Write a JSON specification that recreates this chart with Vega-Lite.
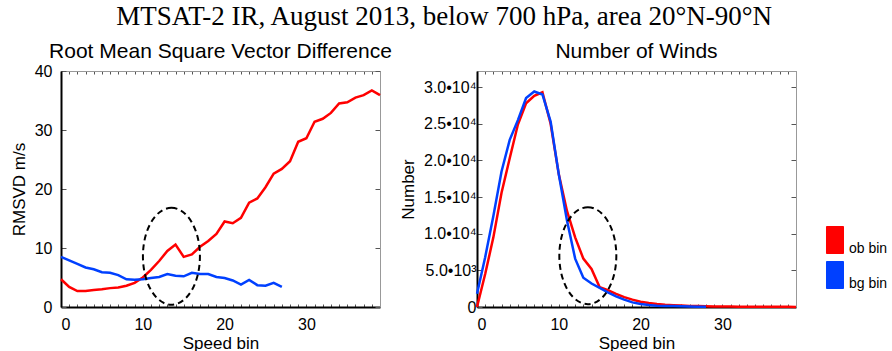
{
  "$schema": "https://vega.github.io/schema/vega-lite/v6.json",
  "background": "white",
  "padding": {"left": 10, "top": 2, "right": 0, "bottom": 5},
  "title": {"text": "MTSAT-2 IR, August 2013, below 700 hPa, area 20°N-90°N", "font": "Liberation Serif", "fontSize": 27, "fontWeight": "normal", "color": "black", "anchor": "middle", "offset": 10, "dx": -5},
  "datasets": {
    "rms": [
      {"bin":0,"series":"ob bin","value":4.7},{"bin":1,"series":"ob bin","value":3.4},{"bin":2,"series":"ob bin","value":2.7},{"bin":3,"series":"ob bin","value":2.7},{"bin":4,"series":"ob bin","value":2.9},{"bin":5,"series":"ob bin","value":3.0},{"bin":6,"series":"ob bin","value":3.2},{"bin":7,"series":"ob bin","value":3.3},{"bin":8,"series":"ob bin","value":3.6},{"bin":9,"series":"ob bin","value":4.1},
      {"bin":10,"series":"ob bin","value":5.0},{"bin":11,"series":"ob bin","value":6.3},{"bin":12,"series":"ob bin","value":7.8},{"bin":13,"series":"ob bin","value":9.5},{"bin":14,"series":"ob bin","value":10.6},{"bin":15,"series":"ob bin","value":8.5},{"bin":16,"series":"ob bin","value":8.9},{"bin":17,"series":"ob bin","value":10.2},{"bin":18,"series":"ob bin","value":11.2},{"bin":19,"series":"ob bin","value":12.4},
      {"bin":20,"series":"ob bin","value":14.5},{"bin":21,"series":"ob bin","value":14.2},{"bin":22,"series":"ob bin","value":15.1},{"bin":23,"series":"ob bin","value":17.7},{"bin":24,"series":"ob bin","value":18.4},{"bin":25,"series":"ob bin","value":20.3},{"bin":26,"series":"ob bin","value":22.6},{"bin":27,"series":"ob bin","value":23.4},{"bin":28,"series":"ob bin","value":24.7},{"bin":29,"series":"ob bin","value":28.0},
      {"bin":30,"series":"ob bin","value":28.6},{"bin":31,"series":"ob bin","value":31.4},{"bin":32,"series":"ob bin","value":31.9},{"bin":33,"series":"ob bin","value":32.9},{"bin":34,"series":"ob bin","value":34.5},{"bin":35,"series":"ob bin","value":34.7},{"bin":36,"series":"ob bin","value":35.5},{"bin":37,"series":"ob bin","value":35.9},{"bin":38,"series":"ob bin","value":36.7},{"bin":39,"series":"ob bin","value":35.9},
      {"bin":0,"series":"bg bin","value":8.5},{"bin":1,"series":"bg bin","value":7.9},{"bin":2,"series":"bg bin","value":7.3},{"bin":3,"series":"bg bin","value":6.7},{"bin":4,"series":"bg bin","value":6.4},{"bin":5,"series":"bg bin","value":5.9},{"bin":6,"series":"bg bin","value":5.8},{"bin":7,"series":"bg bin","value":5.4},{"bin":8,"series":"bg bin","value":4.7},{"bin":9,"series":"bg bin","value":4.6},
      {"bin":10,"series":"bg bin","value":4.7},{"bin":11,"series":"bg bin","value":4.9},{"bin":12,"series":"bg bin","value":5.1},{"bin":13,"series":"bg bin","value":5.6},{"bin":14,"series":"bg bin","value":5.3},{"bin":15,"series":"bg bin","value":5.2},{"bin":16,"series":"bg bin","value":5.8},{"bin":17,"series":"bg bin","value":5.6},{"bin":18,"series":"bg bin","value":5.6},{"bin":19,"series":"bg bin","value":5.1},
      {"bin":20,"series":"bg bin","value":4.9},{"bin":21,"series":"bg bin","value":4.5},{"bin":22,"series":"bg bin","value":3.8},{"bin":23,"series":"bg bin","value":4.6},{"bin":24,"series":"bg bin","value":3.7},{"bin":25,"series":"bg bin","value":3.6},{"bin":26,"series":"bg bin","value":4.1},{"bin":27,"series":"bg bin","value":3.4}
    ],
    "num": [
      {"bin":0,"series":"ob bin","value":0},{"bin":1,"series":"ob bin","value":4500},{"bin":2,"series":"ob bin","value":9500},{"bin":3,"series":"ob bin","value":15600},{"bin":4,"series":"ob bin","value":20300},{"bin":5,"series":"ob bin","value":24900},{"bin":6,"series":"ob bin","value":27800},{"bin":7,"series":"ob bin","value":28800},{"bin":8,"series":"ob bin","value":29300},{"bin":9,"series":"ob bin","value":25000},
      {"bin":10,"series":"ob bin","value":18100},{"bin":11,"series":"ob bin","value":13100},{"bin":12,"series":"ob bin","value":9500},{"bin":13,"series":"ob bin","value":6600},{"bin":14,"series":"ob bin","value":5200},{"bin":15,"series":"ob bin","value":2700},{"bin":16,"series":"ob bin","value":2300},{"bin":17,"series":"ob bin","value":1800},{"bin":18,"series":"ob bin","value":1350},{"bin":19,"series":"ob bin","value":1000},
      {"bin":20,"series":"ob bin","value":720},{"bin":21,"series":"ob bin","value":540},{"bin":22,"series":"ob bin","value":400},{"bin":23,"series":"ob bin","value":310},{"bin":24,"series":"ob bin","value":250},{"bin":25,"series":"ob bin","value":200},{"bin":26,"series":"ob bin","value":150},{"bin":27,"series":"ob bin","value":120},{"bin":28,"series":"ob bin","value":100},{"bin":29,"series":"ob bin","value":80},
      {"bin":30,"series":"ob bin","value":70},{"bin":31,"series":"ob bin","value":60},{"bin":32,"series":"ob bin","value":50},{"bin":33,"series":"ob bin","value":40},{"bin":34,"series":"ob bin","value":35},{"bin":35,"series":"ob bin","value":30},{"bin":36,"series":"ob bin","value":25},{"bin":37,"series":"ob bin","value":20},{"bin":38,"series":"ob bin","value":20},{"bin":39,"series":"ob bin","value":15},
      {"bin":0,"series":"bg bin","value":1800},{"bin":1,"series":"bg bin","value":6800},{"bin":2,"series":"bg bin","value":12400},{"bin":3,"series":"bg bin","value":18500},{"bin":4,"series":"bg bin","value":22800},{"bin":5,"series":"bg bin","value":25500},{"bin":6,"series":"bg bin","value":28500},{"bin":7,"series":"bg bin","value":29400},{"bin":8,"series":"bg bin","value":29000},{"bin":9,"series":"bg bin","value":25300},
      {"bin":10,"series":"bg bin","value":18100},{"bin":11,"series":"bg bin","value":11800},{"bin":12,"series":"bg bin","value":6600},{"bin":13,"series":"bg bin","value":4000},{"bin":14,"series":"bg bin","value":3200},{"bin":15,"series":"bg bin","value":2600},{"bin":16,"series":"bg bin","value":2000},{"bin":17,"series":"bg bin","value":1450},{"bin":18,"series":"bg bin","value":1000},{"bin":19,"series":"bg bin","value":630},
      {"bin":20,"series":"bg bin","value":400},{"bin":21,"series":"bg bin","value":270},{"bin":22,"series":"bg bin","value":180},{"bin":23,"series":"bg bin","value":130},{"bin":24,"series":"bg bin","value":120},{"bin":25,"series":"bg bin","value":90},{"bin":26,"series":"bg bin","value":70},{"bin":27,"series":"bg bin","value":50},{"bin":28,"series":"bg bin","value":40}
    ],
    "ell": [
      {"panel":"rms","x":13.5,"y":8.6},
      {"panel":"num","x":13.55,"y":7000}
    ]
  },
  "config": {
    "view": {"stroke": null},
    "font": "Liberation Sans",
    "axis": {"labelFont": "Liberation Sans", "labelFontSize": 16, "labelColor": "black", "titleFont": "Liberation Sans", "titleFontSize": 17, "titleFontWeight": "normal", "titleColor": "black", "grid": false, "domainColor": "black", "domainWidth": 2, "tickColor": "#555", "tickWidth": 1},
    "title": {"font": "Liberation Sans", "fontSize": 21, "fontWeight": "normal", "color": "black", "offset": 1}
  },
  "spacing": 7,
  "hconcat": [
    {
      "title": {"text": "Root Mean Square Vector Difference"},
      "width": 319, "height": 236,
      "resolve": {"axis": {"x": "independent", "y": "independent"}},
      "layer": [
        {
          "data": {"name": "rms"},
          "mark": {"type": "line", "strokeWidth": 2.5},
          "encoding": {
            "x": {"field": "bin", "type": "quantitative", "scale": {"domain": [0, 39], "nice": false, "zero": false},
                  "axis": {"title": "Speed bin", "orient": "bottom", "values": [0,1,2,3,4,5,6,7,8,9,10,11,12,13,14,15,16,17,18,19,20,21,22,23,24,25,26,27,28,29,30,31,32,33,34,35,36,37,38,39], "labelExpr": "datum.value % 10 == 0 ? datum.label : ''", "tickSize": -3, "labelPadding": 12, "titlePadding": 3}},
            "y": {"field": "value", "type": "quantitative", "scale": {"domain": [0, 40], "nice": false},
                  "axis": {"title": "RMSVD m/s", "orient": "left", "values": [0,10,20,30,40], "tickSize": -5, "labelPadding": 14, "titlePadding": 6}},
            "color": {"field": "series", "type": "nominal", "scale": {"domain": ["ob bin", "bg bin"], "range": ["#ff0000", "#0040ff"]},
                      "legend": {"orient": "none", "legendX": 760, "legendY": 155, "title": null, "padding": 0,
                                 "symbolType": "M-0.63,-1H0.63V1H-0.63Z", "symbolSize": 729, "labelFont": "Liberation Sans", "labelFontSize": 14, "labelColor": "black", "labelOffset": 0, "rowPadding": 3,
                                 "encode": {"symbols": {"update": {"fill": {"scale": "color", "field": "value"}, "stroke": {"value": "#333"}, "strokeWidth": {"value": 1}, "opacity": {"value": 1}}},
                                            "labels": {"update": {"dy": {"value": 9}}}}}}
          }
        },
        {
          "data": {"name": "ell"},
          "transform": [{"filter": "datum.panel == 'rms'"}],
          "mark": {"type": "point", "shape": "M0,-1.7C0.5523,-1.7 1,-0.9389 1,0C1,0.9389 0.5523,1.7 0,1.7C-0.5523,1.7 -1,0.9389 -1,0C-1,-0.9389 -0.5523,-1.7 0,-1.7Z", "size": 3249, "filled": false, "stroke": "black", "strokeWidth": 2, "strokeDash": [6, 4], "opacity": 1},
          "encoding": {
            "x": {"field": "x", "type": "quantitative", "axis": null},
            "y": {"field": "y", "type": "quantitative", "axis": null}
          }
        },
        {
          "data": {"name": "rms"},
          "mark": {"type": "line", "opacity": 0},
          "encoding": {
            "x": {"field": "bin", "type": "quantitative",
                  "axis": {"orient": "top", "title": null, "labels": false, "values": [0,1,2,3,4,5,6,7,8,9,10,11,12,13,14,15,16,17,18,19,20,21,22,23,24,25,26,27,28,29,30,31,32,33,34,35,36,37,38,39], "tickSize": -3, "domainColor": "#999", "domainWidth": 1}},
            "y": {"field": "value", "type": "quantitative",
                  "axis": {"orient": "right", "title": null, "labels": false, "values": [0,10,20,30,40], "tickSize": -5, "domainColor": "#999", "domainWidth": 1}}
          }
        }
      ]
    },
    {
      "title": {"text": "Number of Winds", "dy": -8},
      "width": 319, "height": 236,
      "resolve": {"axis": {"x": "independent", "y": "independent"}},
      "layer": [
        {
          "data": {"name": "num"},
          "mark": {"type": "line", "strokeWidth": 2.5},
          "encoding": {
            "x": {"field": "bin", "type": "quantitative", "scale": {"domain": [0, 39], "nice": false, "zero": false},
                  "axis": {"title": "Speed bin", "orient": "bottom", "values": [0,1,2,3,4,5,6,7,8,9,10,11,12,13,14,15,16,17,18,19,20,21,22,23,24,25,26,27,28,29,30,31,32,33,34,35,36,37,38,39], "labelExpr": "datum.value % 10 == 0 ? datum.label : ''", "tickSize": -3, "labelPadding": 12, "titlePadding": 3}},
            "y": {"field": "value", "type": "quantitative", "scale": {"domain": [0, 32200], "nice": false},
                  "axis": {"title": "Number", "orient": "left", "values": [0,5000,10000,15000,20000,25000,30000], "labelExpr": "datum.value == 0 ? '0' : (datum.value < 10000 ? format(datum.value/1000, '.1f') + '•10³' : format(datum.value/10000, '.1f') + '•10⁴')", "tickSize": -5, "labelPadding": 6, "titlePadding": 6}},
            "color": {"field": "series", "type": "nominal"}
          }
        },
        {
          "data": {"name": "ell"},
          "transform": [{"filter": "datum.panel == 'num'"}],
          "mark": {"type": "point", "shape": "M0,-1.7C0.5523,-1.7 1,-0.9389 1,0C1,0.9389 0.5523,1.7 0,1.7C-0.5523,1.7 -1,0.9389 -1,0C-1,-0.9389 -0.5523,-1.7 0,-1.7Z", "size": 3249, "filled": false, "stroke": "black", "strokeWidth": 2, "strokeDash": [6, 4], "opacity": 1},
          "encoding": {
            "x": {"field": "x", "type": "quantitative", "axis": null},
            "y": {"field": "y", "type": "quantitative", "axis": null}
          }
        },
        {
          "data": {"name": "num"},
          "mark": {"type": "line", "opacity": 0},
          "encoding": {
            "x": {"field": "bin", "type": "quantitative",
                  "axis": {"orient": "top", "title": null, "labels": false, "values": [0,1,2,3,4,5,6,7,8,9,10,11,12,13,14,15,16,17,18,19,20,21,22,23,24,25,26,27,28,29,30,31,32,33,34,35,36,37,38,39], "tickSize": -3, "domainColor": "#999", "domainWidth": 1}},
            "y": {"field": "value", "type": "quantitative",
                  "axis": {"orient": "right", "title": null, "labels": false, "values": [0,5000,10000,15000,20000,25000,30000], "tickSize": -5, "domainColor": "#999", "domainWidth": 1}}
          }
        }
      ]
    }
  ]
}
